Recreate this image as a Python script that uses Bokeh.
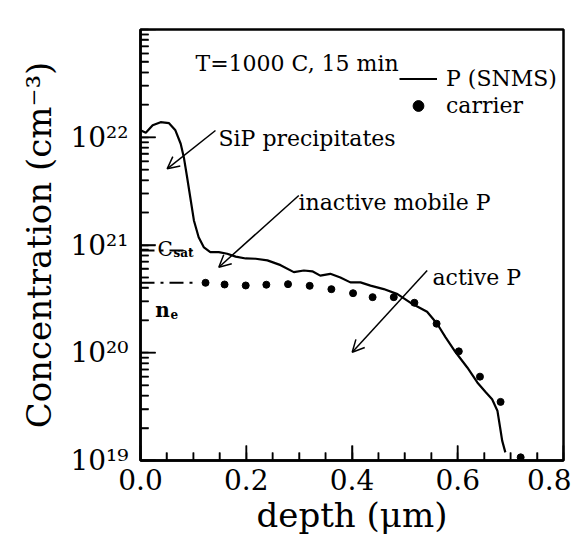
import math
from bokeh.plotting import figure
from bokeh.models import (Range1d, LogTicker, SingleIntervalTicker, CustomJSTickFormatter,
                          PrintfTickFormatter, Label, Arrow, OpenHead, Legend, LegendItem)
from bokeh.embed import file_html
from bokeh.resources import INLINE

# ---- data ----
snms_depth = [0.000, 0.010, 0.023, 0.038, 0.054, 0.066, 0.076, 0.082, 0.088, 0.095,
              0.101, 0.110, 0.120, 0.132, 0.148, 0.164, 0.180, 0.199, 0.218, 0.240,
              0.265, 0.290, 0.309, 0.325, 0.340, 0.359, 0.378, 0.397, 0.416, 0.435,
              0.460, 0.486, 0.511, 0.542, 0.561, 0.577, 0.596, 0.618, 0.637, 0.653,
              0.665, 0.675, 0.681, 0.684, 0.690]
snms_conc = [1.16e22, 1.10e22, 1.29e22, 1.38e22, 1.35e22, 1.16e22, 8.7e21, 6.5e21, 4.3e21, 2.6e21,
             1.69e21, 1.18e21, 9.5e20, 8.6e20, 8.6e20, 8.3e20, 7.8e20, 7.5e20, 7.45e20, 7.2e20,
             6.5e20, 5.6e20, 5.8e20, 5.7e20, 5.2e20, 5.4e20, 5.0e20, 4.5e20, 4.5e20, 4.2e20,
             3.9e20, 3.5e20, 2.9e20, 2.4e20, 1.86e20, 1.39e20, 1.01e20, 7.3e19, 5.3e19, 4.3e19,
             3.7e19, 2.9e19, 1.9e19, 1.53e19, 1.19e19]

carrier_depth = [0.123, 0.159, 0.199, 0.238, 0.279, 0.320, 0.361, 0.402, 0.439, 0.479,
                 0.518, 0.560, 0.602, 0.642, 0.681, 0.719]
carrier_conc = [4.46e20, 4.30e20, 4.21e20, 4.28e20, 4.33e20, 4.18e20, 3.89e20, 3.57e20, 3.28e20, 3.28e20,
                2.91e20, 1.86e20, 1.03e20, 6.0e19, 3.5e19, 1.07e19]

C_SAT = 8.9e20
N_E = 4.46e20
REF_LINE_END = 0.105

X_MIN, X_MAX = 0.0, 0.8
Y_MIN, Y_MAX = 1e19, 1e23

# tick positions (inward tick marks)
x_major_ticks = [0.0, 0.2, 0.4, 0.6, 0.8]
x_minor_ticks = [round(0.05 * i, 2) for i in range(1, 16) if i % 4]
y_major_ticks = [1e19, 1e20, 1e21, 1e22, 1e23]
y_minor_ticks = [k * 10.0 ** n for n in range(19, 23) for k in range(2, 10)]
EDGE_X = X_MIN + 0.0005      # just inside the left frame edge
EDGE_Y = Y_MIN * 1.002       # just inside the bottom frame edge

SERIF = "DejaVu Serif"

p = figure(width=571, height=545, output_backend="svg", toolbar_location=None,
           x_range=Range1d(X_MIN, X_MAX), y_range=Range1d(Y_MIN, Y_MAX), y_axis_type="log",
           min_border_left=140, min_border_right=8, min_border_top=29, min_border_bottom=85)
p.grid.visible = False
p.outline_line_color = "black"
p.outline_line_width = 2.5

# axes
p.xaxis.ticker = SingleIntervalTicker(interval=0.2, num_minor_ticks=4)
p.xaxis.formatter = PrintfTickFormatter(format="%.1f")
p.yaxis.ticker = LogTicker(desired_num_ticks=5, num_minor_ticks=10)
p.yaxis.formatter = CustomJSTickFormatter(code="""
const sup = {"0":"\u2070","1":"\u00b9","2":"\u00b2","3":"\u00b3","4":"\u2074","5":"\u2075",
             "6":"\u2076","7":"\u2077","8":"\u2078","9":"\u2079","-":"\u207b"};
const e = Math.round(Math.log10(tick));
return "10" + String(e).split("").map(c => sup[c]).join("");
""")
p.axis.axis_line_width = 2.5
p.axis.axis_line_color = "black"
p.axis.major_tick_line_color = "black"
p.axis.minor_tick_line_color = "black"
p.axis.major_tick_line_width = 1.5
p.axis.minor_tick_line_width = 1.5
p.axis.major_tick_in = 15
p.axis.major_tick_out = 0
p.axis.minor_tick_in = 8
p.axis.minor_tick_out = 0
p.axis.major_label_text_font = SERIF
p.axis.major_label_text_font_size = "28px"
p.axis.major_label_text_color = "black"
p.axis.axis_label_text_font = SERIF
p.axis.axis_label_text_font_size = "34px"
p.axis.axis_label_text_font_style = "normal"
p.axis.axis_label_text_color = "black"
p.xaxis.major_label_standoff = 8
p.yaxis.major_label_standoff = 12
p.xaxis.axis_label = "depth (\u03bcm)"
p.yaxis.axis_label = "Concentration (cm\u207b\u00b3)"
p.xaxis.axis_label_standoff = 2
p.yaxis.axis_label_standoff = 8

# inward tick marks (the outer half of each dash is clipped away by the frame)
tick_style = dict(marker="dash", line_color="black", line_width=1.5)
p.scatter([EDGE_X] * len(y_major_ticks), y_major_ticks, size=30, **tick_style)
p.scatter([EDGE_X] * len(y_minor_ticks), y_minor_ticks, size=16, **tick_style)
p.scatter(x_major_ticks, [EDGE_Y] * len(x_major_ticks), size=30, angle=math.pi / 2, **tick_style)
p.scatter(x_minor_ticks, [EDGE_Y] * len(x_minor_ticks), size=16, angle=math.pi / 2, **tick_style)

# data
r_line = p.line(snms_depth, snms_conc, line_color="black", line_width=2.2)
r_dots = p.scatter(carrier_depth, carrier_conc, marker="circle", size=7,
                   fill_color="black", line_color="black")

# reference levels
p.segment(x0=[X_MIN, X_MIN], y0=[C_SAT, N_E], x1=[REF_LINE_END, REF_LINE_END], y1=[C_SAT, N_E],
          line_color="black", line_width=2, line_dash="14 6 3 6")

legend = Legend(items=[LegendItem(label="P (SNMS)", renderers=[r_line]),
                       LegendItem(label="carrier", renderers=[r_dots])],
                location=(259, 341), orientation="vertical",
                glyph_width=38, glyph_height=27, label_height=27, label_standoff=9,
                spacing=0, padding=0, margin=0,
                border_line_alpha=0, background_fill_alpha=0,
                label_text_font=SERIF, label_text_font_size="22px", label_text_color="black")
p.add_layout(legend)

def txt(x, y, s, size="22px", style="normal"):
    p.add_layout(Label(x=x, y=y, text=s, text_font=SERIF, text_font_size=size,
                       text_font_style=style, text_baseline="alphabetic",
                       text_align="left", text_color="black"))

txt(0.104, 4.83e22, "T=1000 C, 15 min")
txt(0.1475, 9.7e21, "SiP precipitates")
txt(0.2988, 2.48e21, "inactive mobile P")
txt(0.5522, 4.99e20, "active P")
txt(0.032, 9.27e20, "C", size="20px")
txt(0.0625, 8.34e20, "sat", size="12px", style="bold")
txt(0.028, 2.47e20, "n", size="20px", style="bold")
txt(0.0567, 2.31e20, "e", size="12px", style="bold")

def arrow(x0, y0, x1, y1):
    p.add_layout(Arrow(end=OpenHead(size=12, line_width=1.5, line_color="black"),
                       x_start=x0, y_start=y0, x_end=x1, y_end=y1,
                       line_width=1.5, line_color="black"))

arrow(0.1418, 1.156e22, 0.0504, 5.09e21)
arrow(0.2994, 2.88e21, 0.1481, 6.22e20)
arrow(0.5422, 5.79e20, 0.4004, 1.01e20)

open("out.html", "w").write(file_html(p, INLINE))
